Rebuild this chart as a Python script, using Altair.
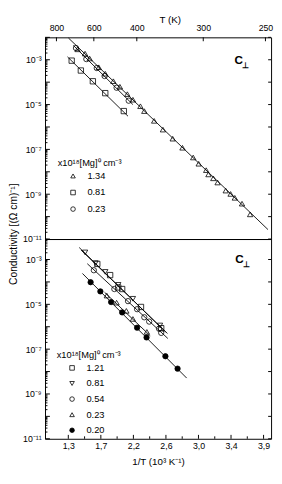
import altair as alt
import pandas as pd

# ---------------- data (x = 1/T in 10^3 K^-1, y = log10 conductivity) -------------
# Top panel
top_labels = ["1.34", "0.81", "0.23"]
top_shapes = ["triangle-up", "square", "circle"]
top_134_x = [1.423, 1.523, 1.584, 1.705, 1.792, 1.900, 1.987, 2.086, 2.160, 2.260, 2.312,
             2.443, 2.560, 2.690, 2.820, 2.963, 3.036, 3.136, 3.166, 3.231, 3.288, 3.396,
             3.461, 3.517, 3.613, 3.721]
top_134_log = [-2.535, -2.726, -2.943, -3.335, -3.622, -3.957, -4.204, -4.535, -4.783, -5.074,
               -5.291, -5.726, -6.117, -6.522, -6.926, -7.361, -7.640, -7.926, -8.117, -8.291,
               -8.478, -8.839, -8.987, -9.161, -9.422, -9.900]
top_081_x = [1.345, 1.467, 1.627, 1.792, 2.039]
top_081_log = [-3.04, -3.48, -3.96, -4.49, -5.29]
top_023_x = [1.402, 1.540, 1.679, 1.783, 1.943, 2.104]
top_023_log = [-2.478, -2.97, -3.37, -3.726, -4.248, -4.826]
top_fit_ids = ["1.34", "0.81", "0.23"]
top_fit_x0 = [1.302, 1.289, 1.367]
top_fit_y0 = [-2.03, -2.87, -2.36]
top_fit_x1 = [3.959, 2.095, 2.160]
top_fit_y1 = [-10.578, -5.52, -5.00]

# Bottom panel
bot_labels = ["1.21", "0.81", "0.54", "0.23", "0.20"]
bot_shapes = ["square", "triangle-down", "circle", "triangle-up", "circle"]
bot_fills = ["transparent", "transparent", "transparent", "transparent", "black"]
bot_121_x = [1.686, 1.857, 1.965, 2.017, 2.268, 2.537]
bot_121_log = [-3.196, -3.696, -4.248, -4.317, -5.117, -6.065]
bot_081_x = [1.523, 1.662, 1.792, 1.965, 2.160, 2.521]
bot_081_log = [-2.683, -3.161, -3.552, -4.13, -4.752, -5.943]
bot_054_x = [1.640, 1.913, 2.095, 2.216, 2.312, 2.377, 2.508, 2.537]
bot_054_log = [-3.478, -4.317, -4.857, -5.217, -5.578, -5.77, -6.087, -6.274]
bot_023_x = [1.813, 1.943, 2.073, 2.160, 2.346]
bot_023_log = [-4.609, -4.926, -5.291, -5.652, -6.23]
bot_020_x = [1.597, 1.727, 1.870, 2.017, 2.216, 2.342, 2.593, 2.755]
bot_020_log = [-4.013, -4.422, -4.9, -5.361, -6.043, -6.478, -7.317, -7.87]
bot_fit_ids = ["1.21", "0.81", "0.54", "0.23", "0.20"]
bot_fit_x0 = [1.47, 1.445, 1.553, 1.783, 1.488]
bot_fit_y0 = [-2.58, -2.465, -3.187, -4.465, -3.622]
bot_fit_x1 = [2.62, 2.593, 2.625, 2.391, 2.876]
bot_fit_y1 = [-6.30, -6.23, -6.522, -6.404, -8.291]

# axes
x_domain = [0.99, 4.0]
bot_tick_vals = [1.3, 1.7333, 2.1667, 2.6, 3.0333, 3.4667, 3.9]
bot_tick_text = ["1,3", "1,7", "2,2", "2,6", "3,0", "3,4", "3,9"]
top_tick_pos = [1.142, 1.640, 2.212, 3.097, 3.925]
top_tick_text = ["800", "600", "400", "300", "250"]
y_lab_exp = [-3, -5, -7, -9, -11]
y_lab_text = ["10⁻³", "10⁻⁵", "10⁻⁷", "10⁻⁹", "10⁻¹¹"]
legend_title = "x10¹⁸[Mg]⁰ cm⁻³"
y_title = "Conductivity  [(Ω cm)⁻¹]"

W = 232
H_TOP = 207
H_BOT = 205
Y_TOP_DOMAIN = [1e-11, 1e-2]
Y_BOT_DOMAIN = [1e-11, 8.2e-3]
FONT = "Liberation Sans"


def points_df(xs_list, logs_list, labels):
    rows = []
    for xs, ls, lab in zip(xs_list, logs_list, labels):
        for xv, lv in zip(xs, ls):
            rows.append({"x": xv, "y": 10.0 ** lv, "mg": lab})
    return pd.DataFrame(rows)


def fits_df(ids, x0, y0, x1, y1):
    rows = []
    for i, a, b, c, d in zip(ids, x0, y0, x1, y1):
        rows.append({"x": a, "y": 10.0 ** b, "id": i})
        rows.append({"x": c, "y": 10.0 ** d, "id": i})
    return pd.DataFrame(rows)


def ylabel_expr():
    e = ""
    for ex, t in zip(y_lab_exp, y_lab_text):
        e += f"round(log(datum.value)/LN10) == {ex} ? '{t}' : "
    return e + "''"


def thresh_expr(vals, texts):
    e = ""
    for i in range(len(vals) - 1):
        mid = (vals[i] + vals[i + 1]) / 2
        e += f"datum.value < {mid:.4f} ? '{texts[i]}' : "
    return e + f"'{texts[-1]}'"


xscale = alt.Scale(domain=x_domain, nice=False, zero=False)


def legend(lx, ly, rowpad):
    return alt.Legend(title=legend_title, orient="none", legendX=lx, legendY=ly, padding=0,
                      titleFontSize=9.5, titleFontWeight="normal", titleFont=FONT, titlePadding=4,
                      labelFontSize=9.5, labelFont=FONT, symbolSize=22, symbolStrokeWidth=0.8,
                      rowPadding=rowpad, symbolOffset=11, labelOffset=10)


def ann(text, x, y, size):
    return alt.Chart(pd.DataFrame({"t": [text]})).mark_text(
        fontSize=size, fontWeight="bold", color="black", font=FONT, align="center", baseline="middle"
    ).encode(text="t:N", x=alt.value(x), y=alt.value(y))


def panel(pts, fits, labels, shapes, fills, ydom, H, xaxis, yaxis, leg, xticks_major, xticks_minor, xtick_y):
    yscale = alt.Scale(type="log", domain=ydom, nice=False)
    X = lambda f: alt.X(f, scale=xscale, axis=xaxis)
    Y = lambda f: alt.Y(f, scale=yscale, axis=yaxis)
    lines = alt.Chart(fits).mark_line(color="black", strokeWidth=0.9).encode(
        x=X("x:Q"), y=Y("y:Q"), detail="id:N")
    points = alt.Chart(pts).mark_point(size=30, strokeWidth=0.8, opacity=1).encode(
        x=X("x:Q"), y=Y("y:Q"),
        shape=alt.Shape("mg:N", scale=alt.Scale(domain=labels, range=shapes), legend=leg),
        fill=alt.Fill("mg:N", scale=alt.Scale(domain=labels, range=fills), legend=leg),
        stroke=alt.Stroke("mg:N", scale=alt.Scale(domain=labels, range=["black"] * len(labels)), legend=leg),
    )
    y_major = [10.0 ** e for e in range(-11, -1) if 10.0 ** e <= ydom[1] * 1.0001]
    y_minor = [m * 10.0 ** e for e in range(-11, -2) for m in range(2, 10) if m * 10.0 ** e <= ydom[1]]

    def hr(vals, a, b):
        return alt.Chart(pd.DataFrame({"v": vals})).mark_rule(color="black", strokeWidth=1).encode(
            y=Y("v:Q"), x=alt.value(a), x2=alt.value(b))

    def vr(vals, a, b):
        return alt.Chart(pd.DataFrame({"v": vals})).mark_rule(color="black", strokeWidth=1).encode(
            x=X("v:Q"), y=alt.value(a), y2=alt.value(b))

    layers = [hr(y_major, 0, 5), hr(y_minor, 0, 2.5), hr(y_major, W - 3, W)]
    a, b = xtick_y
    layers.append(vr(xticks_major, a, b))
    if xticks_minor:
        layers.append(vr(xticks_minor, b - 2.5 if b > a and b > 10 else a, b if b > 10 else a + 2.5))
    layers += [lines, points]
    return layers


# ---------------- top panel ----------------
top_xaxis = alt.Axis(orient="top", values=top_tick_pos, labelExpr=thresh_expr(top_tick_pos, top_tick_text),
                     ticks=False, domain=False, grid=False, labelFontSize=9, labelPadding=5,
                     labelFont=FONT, title="T (K)", titleFontSize=10, titleFontWeight="normal",
                     titleFont=FONT, titleY=-23, titleX=128, titleBaseline="top")
top_yaxis = alt.Axis(values=[10.0 ** e for e in y_lab_exp], labelExpr=ylabel_expr(), ticks=False,
                     domain=False, grid=False, labelFontSize=9, labelPadding=4, labelFont=FONT,
                     title=y_title, titleFontSize=10.5, titleFontWeight="normal", titleFont=FONT,
                     titleX=-37, titleY=201.5, titleBaseline="top", titleAngle=270)
tl = panel(points_df([top_134_x, top_081_x, top_023_x], [top_134_log, top_081_log, top_023_log], top_labels),
           fits_df(top_fit_ids, top_fit_x0, top_fit_y0, top_fit_x1, top_fit_y1),
           top_labels, top_shapes, ["transparent"] * 3, Y_TOP_DOMAIN, H_TOP,
           top_xaxis, top_yaxis, legend(13, 124, 6), top_tick_pos, None, (0, 4))
tl += [ann("C", 198.8, 23, 12), ann("⊥", 206, 29, 8)]
top = alt.layer(*tl).properties(width=W, height=H_TOP)

# ---------------- bottom panel ----------------
bot_xaxis = alt.Axis(orient="bottom", values=bot_tick_vals, labelExpr=thresh_expr(bot_tick_vals, bot_tick_text),
                     ticks=False, domain=False, grid=False, labelFontSize=9, labelPadding=3,
                     labelFont=FONT, title="1/T (10³ K⁻¹)", titleFontSize=10, titleFontWeight="normal",
                     titleFont=FONT, titlePadding=6)
bot_yaxis = alt.Axis(values=[10.0 ** e for e in y_lab_exp], labelExpr=ylabel_expr(), ticks=False,
                     domain=False, grid=False, labelFontSize=9, labelPadding=4, labelFont=FONT, title=None)
bot_minor_x = [(bot_tick_vals[i] + bot_tick_vals[i + 1]) / 2 for i in range(len(bot_tick_vals) - 1)]
bl = panel(points_df([bot_121_x, bot_081_x, bot_054_x, bot_023_x, bot_020_x],
                     [bot_121_log, bot_081_log, bot_054_log, bot_023_log, bot_020_log], bot_labels),
           fits_df(bot_fit_ids, bot_fit_x0, bot_fit_y0, bot_fit_x1, bot_fit_y1),
           bot_labels, bot_shapes, bot_fills, Y_BOT_DOMAIN, H_BOT,
           bot_xaxis, bot_yaxis, legend(12, 114, 5), bot_tick_vals, bot_minor_x, (H_BOT - 4, H_BOT))
bl += [ann("C", 199.5, 21, 12), ann("⊥", 206.5, 27, 8)]
bottom = alt.layer(*bl).properties(width=W, height=H_BOT)

chart = alt.vconcat(top, bottom, spacing=0, bounds="flush").resolve_scale(
    shape="independent", fill="independent", stroke="independent", x="independent", y="independent"
).resolve_legend(shape="independent", fill="independent", stroke="independent").properties(
    padding=0).configure(font=FONT).configure_view(stroke="black", strokeWidth=1)

chart.save("out.html", embed_options={"renderer": "svg", "actions": False})
